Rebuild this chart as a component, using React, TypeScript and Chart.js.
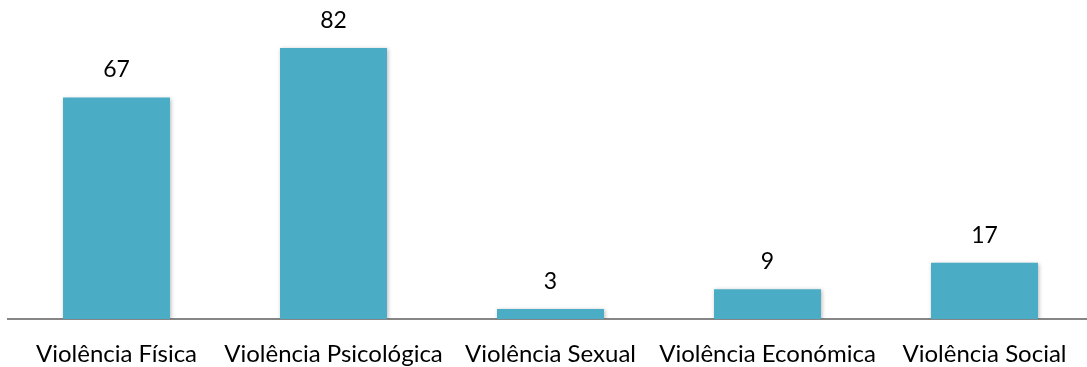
import React, { useEffect, useRef } from "react";
import { Chart, registerables } from "chart.js";

Chart.register(...registerables);

const categories: string[] = [
  "Violência Física",
  "Violência Psicológica",
  "Violência Sexual",
  "Violência Económica",
  "Violência Social",
];
const values: number[] = [67, 82, 3, 9, 17];

const BAR_COLOR = "#4BACC6";
const AXIS_COLOR = "#868686";
const FONT_FAMILY = "Lato, 'Open Sans', sans-serif";

// Soft drop shadow under the bars
const barShadow = {
  id: "barShadow",
  beforeDatasetDraw(chart: any) {
    const ctx = chart.ctx;
    ctx.save();
    ctx.shadowColor = "rgba(0,0,0,0.28)";
    ctx.shadowBlur = 4;
    ctx.shadowOffsetX = 1;
    ctx.shadowOffsetY = 1;
  },
  afterDatasetDraw(chart: any) {
    chart.ctx.restore();
  },
};

// Value labels drawn above each bar
const valueLabels = {
  id: "valueLabels",
  afterDatasetsDraw(chart: any) {
    const ctx = chart.ctx;
    const meta = chart.getDatasetMeta(0);
    ctx.save();
    ctx.fillStyle = "#000000";
    ctx.font = `23px ${FONT_FAMILY}`;
    ctx.textAlign = "center";
    ctx.textBaseline = "bottom";
    meta.data.forEach((bar: any, i: number) => {
      ctx.fillText(String(values[i]), bar.x, bar.y - 16);
    });
    ctx.restore();
  },
};

export default function App() {
  const canvasRef = useRef<HTMLCanvasElement | null>(null);

  useEffect(() => {
    if (!canvasRef.current) return;
    const chart = new Chart(canvasRef.current, {
      type: "bar",
      data: {
        labels: categories,
        datasets: [
          {
            data: values,
            backgroundColor: BAR_COLOR,
            borderWidth: 0,
            barPercentage: 0.493,
            categoryPercentage: 1,
          },
        ],
      },
      options: {
        responsive: false,
        animation: false,
        layout: { padding: { left: 8, right: 0, top: 0, bottom: 0 } },
        plugins: {
          legend: { display: false },
          tooltip: { enabled: false },
        },
        scales: {
          x: {
            grid: { display: false },
            border: { display: true, color: AXIS_COLOR, width: 2 },
            ticks: {
              color: "#000000",
              font: { family: FONT_FAMILY, size: 24 },
              padding: 13,
              maxRotation: 0,
              autoSkip: false,
            },
            afterFit: (scale: any) => {
              scale.height = 48;
            },
          },
          y: {
            display: false,
            min: 0,
            max: 96.5,
          },
        },
      },
      plugins: [barShadow, valueLabels],
    });
    return () => chart.destroy();
  }, []);

  return (
    <div
      style={{
        position: "fixed",
        left: 0,
        top: 0,
        width: 1087,
        height: 367,
        overflow: "hidden",
        background: "#ffffff",
      }}
    >
      <canvas ref={canvasRef} width={1093} height={367} style={{ display: "block" }} />
    </div>
  );
}
